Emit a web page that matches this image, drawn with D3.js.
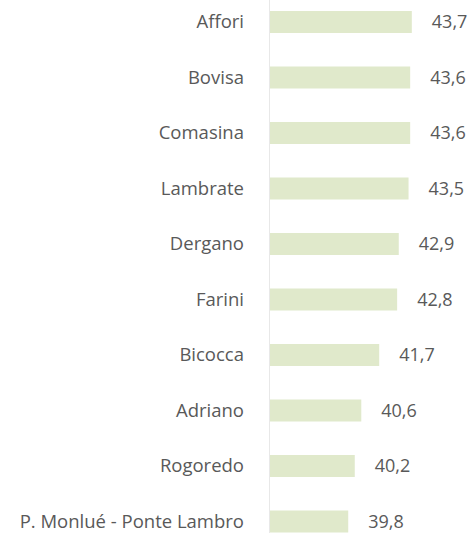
<!DOCTYPE html>
<html>
<head>
<meta charset="utf-8">
<script src="https://cdn.jsdelivr.net/npm/d3@7"></script>
<style>
  body { margin: 0; background: #fff; }
  text { font-family: "Open Sans", sans-serif; fill: #595959; }
</style>
</head>
<body>
<div class="chart-area"></div>
<script>
const quartieri = ["Affori", "Bovisa", "Comasina", "Lambrate", "Dergano", "Farini",
  "Bicocca", "Adriano", "Rogoredo", "P. Monlué - Ponte Lambro"];
const valori = [43.7, 43.6, 43.6, 43.5, 42.9, 42.8, 41.7, 40.6, 40.2, 39.8];

let data = quartieri.map((q, i) => ({ name: q, value: valori[i] }));

let outerWidth = 475, outerHeight = 534;
let axisX = 270;

let svg = d3.select('.chart-area').append('svg')
  .attr('width', outerWidth)
  .attr('height', outerHeight);

let xScale = d3.scaleLinear()
  .domain([35, 45])
  .range([axisX, axisX + 163]);

let yScale = d3.scaleBand()
  .domain(quartieri)
  .range([-5.75, 549.25])
  .paddingInner(0.6)
  .paddingOuter(0.3);

// bars
svg.selectAll('rect.bar')
  .data(data)
  .enter()
  .append('rect')
  .attr('class', 'bar')
  .attr('x', xScale(35))
  .attr('y', d => yScale(d.name) + yScale.bandwidth() / 2 - 11)
  .attr('width', d => xScale(d.value) - xScale(35))
  .attr('height', 22)
  .attr('fill', '#e0e9cb');

// vertical axis line
svg.append('line')
  .attr('x1', axisX - 0.5).attr('x2', axisX - 0.5)
  .attr('y1', 0).attr('y2', 533)
  .attr('stroke', '#e8e8e8')
  .attr('stroke-width', 1);

// category labels
svg.selectAll('text.cat')
  .data(data)
  .enter()
  .append('text')
  .attr('class', 'cat')
  .attr('x', 244)
  .attr('y', d => yScale(d.name) + yScale.bandwidth() / 2)
  .attr('dy', '0.35em')
  .attr('text-anchor', 'end')
  .attr('font-size', 18.5)
  .text(d => d.name);

// value labels
let fmt = d => d3.format('.1f')(d).replace('.', ',');
svg.selectAll('text.val')
  .data(data)
  .enter()
  .append('text')
  .attr('class', 'val')
  .attr('x', d => xScale(d.value) + 20)
  .attr('y', d => yScale(d.name) + yScale.bandwidth() / 2)
  .attr('dy', '0.35em')
  .attr('font-size', 18)
  .text(d => fmt(d.value));
</script>
</body>
</html>
